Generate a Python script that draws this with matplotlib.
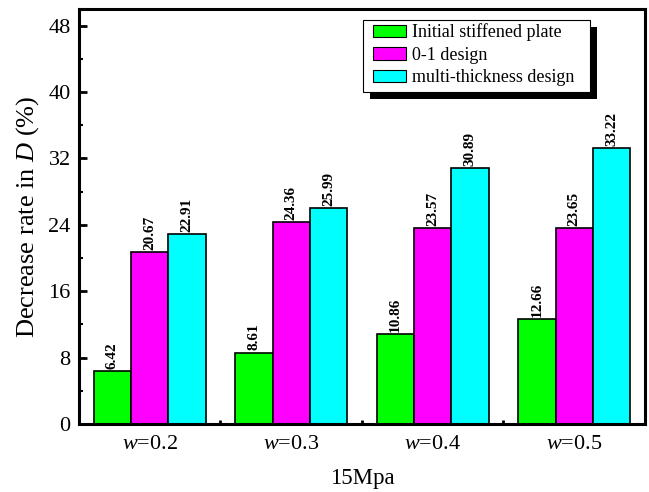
import matplotlib
matplotlib.use('Agg')
import matplotlib.pyplot as plt
import numpy as np
from matplotlib.patches import Rectangle
from matplotlib.ticker import MultipleLocator

plt.rcParams['font.family'] = ['Liberation Serif', 'DejaVu Serif']
plt.rcParams['mathtext.fontset'] = 'custom'
plt.rcParams['mathtext.rm'] = 'Liberation Serif'
plt.rcParams['mathtext.it'] = 'Liberation Serif:italic'

# data
groups = ['$w$=0.2', '$w$=0.3', '$w$=0.4', '$w$=0.5']
series_names = ['Initial stiffened plate', '0-1 design', 'multi-thickness design']
initial_plate = [6.42, 8.61, 10.86, 12.66]
design_01 = [20.67, 24.36, 23.57, 23.65]
multi_thickness = [22.91, 25.99, 30.89, 33.22]
colors = ['#00ff00', '#ff00ff', '#00ffff']

fig = plt.figure(figsize=(6.49, 4.92), dpi=100)
ax = fig.add_axes([0.1217, 0.1382, 0.8721, 0.8435])

x = np.arange(len(groups))
width = 0.264
all_vals = [initial_plate, design_01, multi_thickness]
for i, vals in enumerate(all_vals):
    pos = x + (i - 1) * width
    ax.bar(pos, vals, width, color=colors[i], edgecolor='black',
           linewidth=1.2, label=series_names[i], zorder=2)
    for px, v in zip(pos, vals):
        ax.annotate(f'{v:.2f}', xy=(px, v), xytext=(0, 1.5), textcoords='offset points',
                    rotation=90, ha='center', va='bottom', fontsize=11,
                    fontweight='bold', zorder=3)

ax.set_xlim(-0.5, 3.5)
ax.set_ylim(0, 50)
ax.set_xticks(x)
ax.set_xticklabels(groups, fontsize=16)
ax.xaxis.set_minor_locator(MultipleLocator(1, offset=0.5))
ax.yaxis.set_major_locator(MultipleLocator(8))
ax.yaxis.set_minor_locator(MultipleLocator(4))
ax.tick_params(axis='y', which='major', direction='in', length=6, width=2, labelsize=16, pad=6)
ax.tick_params(axis='y', which='minor', direction='in', length=3, width=1.5)
ax.tick_params(axis='x', which='major', direction='in', length=5, width=2, pad=8)
ax.tick_params(axis='x', which='minor', direction='in', length=3, width=2)
for s in ax.spines.values():
    s.set_linewidth(2.2)

ax.set_ylabel('Decrease rate in $D$ (%)', fontsize=19, labelpad=5)
ax.set_xlabel('15Mpa', fontsize=16.5, labelpad=10)

leg = ax.legend(loc='upper left', bbox_to_anchor=(0.519, 0.965), borderaxespad=0,
                fontsize=13, frameon=False,
                handlelength=1.85, handleheight=0.7, handletextpad=0.35,
                labelspacing=0.3, borderpad=0)
for h in leg.legend_handles:
    h.set_linewidth(0.8)
leg.set_zorder(5)

# legend frame with a black drop shadow
fig.canvas.draw()
bb = leg.get_window_extent()
px_w, px_h = ax.bbox.width, ax.bbox.height
fx0 = (bb.x0 - 10 - ax.bbox.x0) / px_w
fy0 = (bb.y0 - 6 - ax.bbox.y0) / px_h
fw = (bb.width + 10 + 15) / px_w
fh = (bb.height + 10) / px_h
ax.add_patch(Rectangle((fx0 + 7 / px_w, fy0 - 7 / px_h), fw, fh,
                       transform=ax.transAxes, facecolor='black', edgecolor='none',
                       zorder=4.8, clip_on=False))
ax.add_patch(Rectangle((fx0, fy0), fw, fh, transform=ax.transAxes,
                       facecolor='white', edgecolor='black', linewidth=0.8,
                       zorder=4.9, clip_on=False))

fig.savefig('out.png', dpi=100)
